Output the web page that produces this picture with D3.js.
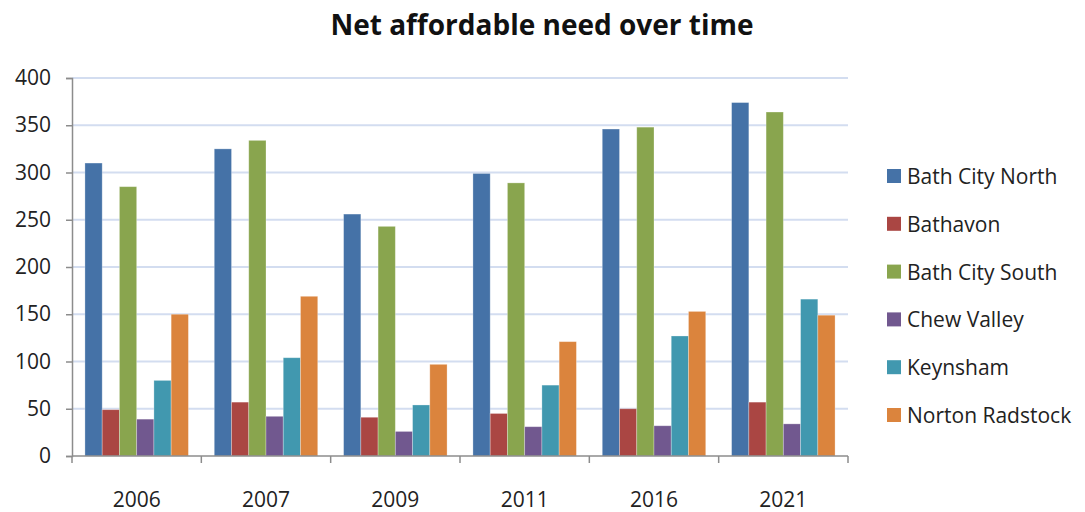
<!DOCTYPE html>
<html><head><meta charset="utf-8">
<script src="https://cdn.jsdelivr.net/npm/d3@7/dist/d3.min.js"></script>
<style>body{margin:0;background:#fff;} svg{display:block;font-family:"Open Sans","Noto Sans",sans-serif;}</style>
</head><body><svg id="c" width="1085" height="512"></svg>
<script>
(function(){
const categories = ["2006","2007","2009","2011","2016","2021"];
const seriesNames = ["Bath City North","Bathavon","Bath City South","Chew Valley","Keynsham","Norton Radstock"];
const bathCityNorth = [310,325,256,299,346,374];
const bathavon = [49,57,41,45,50,57];
const bathCitySouth = [285,334,243,289,348,364];
const chewValley = [39,42,26,31,32,34];
const keynsham = [80,104,54,75,127,166];
const nortonRadstock = [150,169,97,121,153,149];
const yTicks = [0,50,100,150,200,250,300,350,400];
const colors = ["#4572a7","#aa4643","#89a54e","#71588f","#4198af","#db843d"];
const seriesValues = [bathCityNorth,bathavon,bathCitySouth,chewValley,keynsham,nortonRadstock];

const svg = d3.select("#c");
const pL = 72, pR = 848, pT = 78, pB = 456;
const x = d3.scaleBand().domain(categories).range([pL,pR]);
const bw = x.bandwidth()/7.5;
const xi = d3.scaleBand().domain(seriesNames).range([bw*0.75, bw*0.75+bw*6]);
const y = d3.scaleLinear().domain([0,400]).range([pB,pT]);

svg.append("g").selectAll("line").data(yTicks.filter(d=>d>0)).join("line")
  .attr("x1",pL).attr("x2",pR).attr("y1",d=>y(d)).attr("y2",d=>y(d))
  .attr("stroke","#d3ddf0").attr("stroke-width",2);

const g = svg.append("g");
seriesValues.forEach((vals,si)=>{
  g.append("g").selectAll("rect").data(vals).join("rect")
    .attr("x",(d,i)=>x(categories[i])+xi(seriesNames[si]))
    .attr("width",xi.bandwidth())
    .attr("y",d=>y(d)).attr("height",d=>y(0)-y(d))
    .attr("fill",colors[si]).attr("stroke","rgba(255,255,255,0.35)").attr("stroke-width",0.8);
});

const ya = d3.axisLeft(y).tickValues(yTicks).tickSize(6).tickPadding(15);
const yg = svg.append("g").attr("transform",`translate(${pL},0)`).call(ya);
yg.select(".domain").attr("stroke","#8c8c8c").attr("stroke-width",1.5);
yg.selectAll(".tick line").attr("stroke","#8c8c8c").attr("stroke-width",1.5);
yg.selectAll("text").attr("font-size",21).attr("fill","#222").style("font-family","Open Sans");

const xg = svg.append("g").attr("transform",`translate(0,${pB})`);
xg.append("line").attr("x1",pL).attr("x2",pR).attr("stroke","#8c8c8c").attr("stroke-width",1.5);
const bounds = categories.map(c=>x(c)).concat([pR]);
xg.selectAll(".tk").data(bounds).join("line").attr("class","tk")
  .attr("x1",d=>d).attr("x2",d=>d).attr("y1",0).attr("y2",7)
  .attr("stroke","#8c8c8c").attr("stroke-width",1.5);
xg.selectAll("text").data(categories).join("text")
  .attr("x",d=>x(d)+x.bandwidth()/2).attr("y",51)
  .attr("text-anchor","middle").attr("font-size",21).attr("fill","#222").text(d=>d);

svg.append("text").attr("x",542).attr("y",35).attr("text-anchor","middle")
  .attr("font-size",28).attr("font-weight","bold").attr("fill","#111").text("Net affordable need over time");

const lg = svg.append("g");
seriesNames.forEach((n,i)=>{
  const yy = 176 + i*47.8;
  lg.append("rect").attr("x",887).attr("y",yy-7).attr("width",14).attr("height",14).attr("fill",colors[i]);
  lg.append("text").attr("x",907).attr("y",yy+8).attr("font-size",21).attr("fill","#222").text(n);
});
})();
</script></body></html>
